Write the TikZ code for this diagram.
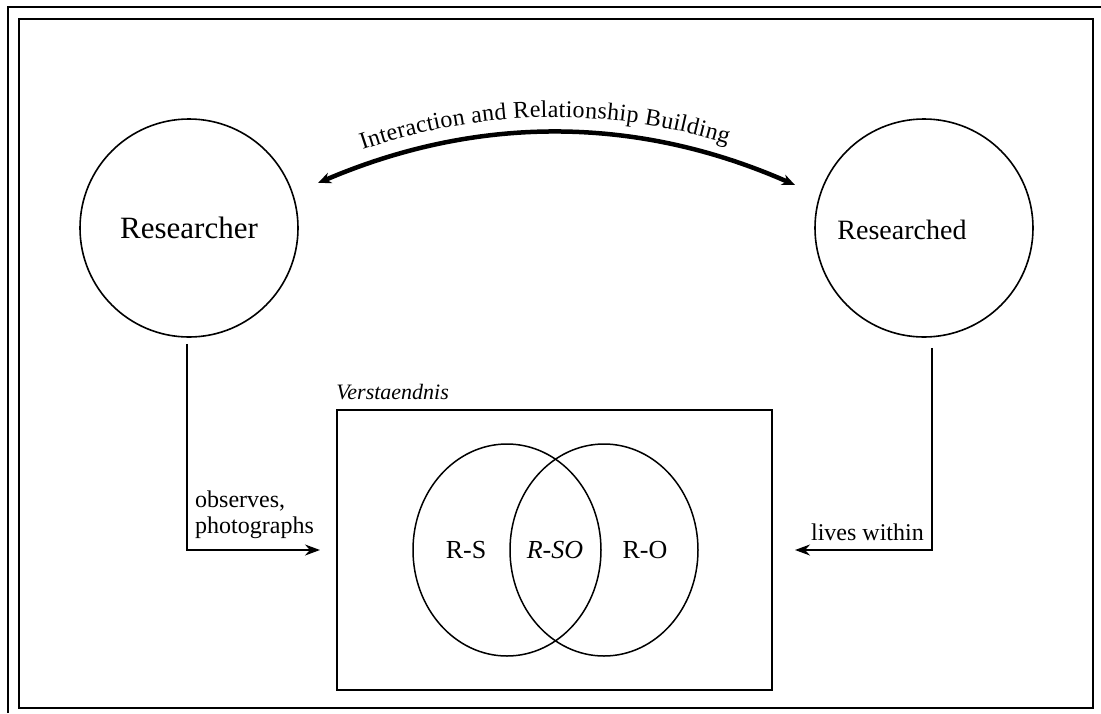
\documentclass[tikz,border=0pt]{standalone}
\usepackage{fontspec}
\setmainfont{Liberation Serif}
\usetikzlibrary{arrows.meta, positioning, calc, shapes.geometric, decorations.text}

\newcommand\arctext{\fontsize{24}{29}\selectfont}

\begin{document}
\begin{tikzpicture}[
  x=1pt, y=-1pt,
  font=\fontsize{24}{26}\selectfont,
  person/.style={
    draw,
    circle,
    line width=1.6pt,
    minimum size=218pt,
    inner sep=0pt,
    font=\fontsize{31}{36}\selectfont
  },
  venn/.style={draw, ellipse, line width=1.5pt, minimum width=188pt, minimum height=212pt, inner sep=0pt},
  vennlabel/.style={inner sep=0pt, font=\fontsize{26}{30}\selectfont},
  arrow/.style={-{Stealth[length=15pt,width=11pt]}, line width=1.6pt},
  bigarrow/.style={{Stealth[length=13pt,width=11pt]}-{Stealth[length=13pt,width=11pt]}, line width=4.5pt}
]

\useasboundingbox (0,0) rectangle (1101,713);

% --- frame ---
\draw[line width=2.6pt] (8,713) -- (8,7) -- (1101,7);
\draw[line width=2.2pt] (19,19) rectangle (1093,708);

% --- researcher and researched ---
\node[person] (researcher) at (189,228) {Researcher};
\node[person] (researched) at (924,228) {};
\node[font=\fontsize{28}{32}\selectfont] (researchedlabel) at (902,230) {Researched};

% --- verstaendnis box ---
\node[draw, line width=1.6pt, minimum width=435pt, minimum height=280pt] (verst) at (554.5,550) {};
\node[anchor=south west, inner sep=0pt, font=\fontsize{22}{26}\selectfont\itshape] (verstlabel) at ([yshift=9pt]verst.north west) {Verstaendnis};

\node[venn] (rs) at (507,550) {};
\node[venn] (ro) at (604,550) {};
\node[vennlabel] (rslabel) at (466,550) {R-S};
\node[vennlabel, font=\fontsize{26}{30}\selectfont\itshape] (rsolabel) at (555,550) {R-SO};
\node[vennlabel] (rolabel) at (645,550) {R-O};

% --- interaction arc ---
\coordinate (arcL) at (318,183);
\coordinate (arcR) at (795,185);
\draw[bigarrow] (arcL) .. controls (477,115) and (636,115) .. (arcR);
\path[decorate, decoration={text along path, text align={center, right indent=24pt}, raise=15pt,
  text={|\arctext|Interaction and Relationship Building}}]
  (arcL) .. controls (477,115) and (636,115) .. (arcR);

% --- connectors ---
\coordinate (inL) at (320,550);
\coordinate (inR) at (795,550);
\draw[arrow] ([xshift=-2pt,yshift=-6pt]researcher.south) |- (inL);
\draw[arrow] ([xshift=8pt,yshift=-10pt]researched.south) |- (inR);

\node[anchor=south west, align=left, inner sep=0pt] (observes) at (195,539) {observes,\\photographs};
\node[anchor=south east, inner sep=0pt] (lives) at (924,541) {lives within};

\end{tikzpicture}
\end{document}
